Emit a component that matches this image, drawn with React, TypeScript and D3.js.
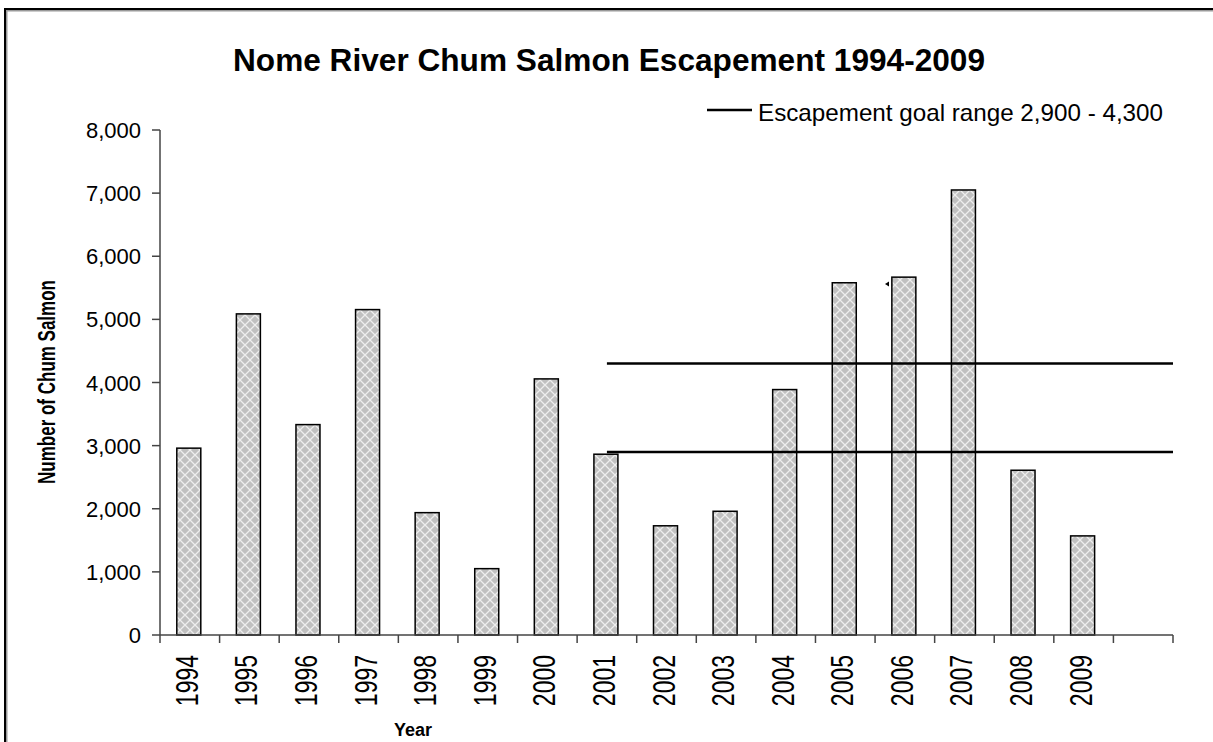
import React from "react";
import * as d3 from "d3";

const years = ["1994", "1995", "1996", "1997", "1998", "1999", "2000", "2001", "2002", "2003", "2004", "2005", "2006", "2007", "2008", "2009"];
const escapement = [2960, 5087, 3333, 5155, 1938, 1051, 4057, 2864, 1730, 1960, 3888, 5580, 5669, 7050, 2610, 1570];
const goalRange = [2900, 4300];
const goalStartYear = "2001";
const yTicks = [0, 1000, 2000, 3000, 4000, 5000, 6000, 7000, 8000];

const W = 1213;
const H = 742;
const FONT = "'Liberation Sans', Arial, sans-serif";

const App: React.FC = () => {
  const left = 160;
  const top = 130;
  const plotRight = 1173;
  const plotBottom = 635;

  // one blank slot after the last year, as in the original sheet
  const cats = [...years, ""];
  const band = d3.scaleBand<string>().domain(cats).range([left, plotRight]);
  const y = d3.scaleLinear().domain([0, 8000]).range([plotBottom, top]);
  const fmt = d3.format(",");

  const barW = 24;
  const lineX1 = (band(goalStartYear) ?? 0) + band.bandwidth() / 2;
  const axis = "#444";

  return (
    <svg width={W} height={H} style={{ position: "absolute", left: 0, top: 0, background: "#fff" }} fontFamily={FONT}>
      <defs>
        <pattern id="hatch" width="10" height="10" patternUnits="userSpaceOnUse">
          <rect width="10" height="10" fill="#c0c0c0" />
          <path d="M0,0 L10,10 M10,0 L0,10" stroke="#eeeeee" strokeWidth="1.3" />
        </pattern>
      </defs>

      {/* chart frame */}
      <rect x={6.5} y={10.5} width={W + 10} height={H + 10} fill="none" stroke="#999" strokeWidth={2} />
      <rect x={5} y={9} width={W + 10} height={H + 10} fill="none" stroke="#000" strokeWidth={2} />

      <text x={609} y={71} textAnchor="middle" fontSize={31} fontWeight="bold" fill="#000" textLength={752} lengthAdjust="spacingAndGlyphs">
        Nome River Chum Salmon Escapement 1994-2009
      </text>

      {/* legend */}
      <line x1={707} x2={752} y1={110} y2={110} stroke="#000" strokeWidth={2.5} />
      <text x={758} y={121} fontSize={24} fill="#000" textLength={405} lengthAdjust="spacingAndGlyphs">
        Escapement goal range 2,900 - 4,300
      </text>

      {/* y axis */}
      <line x1={left} x2={left} y1={top} y2={plotBottom} stroke={axis} strokeWidth={1.5} />
      {yTicks.map((t) => (
        <g key={t}>
          <line x1={left - 8} x2={left} y1={y(t)} y2={y(t)} stroke={axis} strokeWidth={1.5} />
          <text x={141} y={y(t) + 8} textAnchor="end" fontSize={22} fill="#000">{fmt(t)}</text>
        </g>
      ))}
      <text transform="translate(55,382) scale(1.4,1) rotate(-90)" textAnchor="middle" fontSize={17} fontWeight="bold" fill="#000">
        Number of Chum Salmon
      </text>

      {/* bars */}
      {years.map((yr, i) => {
        const cx = (band(yr) ?? 0) + band.bandwidth() / 2 - 1;
        return (
          <rect key={yr} x={cx - barW / 2} y={y(escapement[i])} width={barW} height={y(0) - y(escapement[i])}
            fill="url(#hatch)" stroke="#000" strokeWidth={1.5} />
        );
      })}

      {/* goal range lines */}
      {goalRange.map((g) => (
        <line key={g} x1={lineX1} x2={plotRight} y1={y(g)} y2={y(g)} stroke="#000" strokeWidth={2.5} />
      ))}

      <path d="M885,284 L889,281.5 L889,286.5 Z" fill="#000" />

      {/* x axis */}
      <line x1={left} x2={plotRight} y1={plotBottom} y2={plotBottom} stroke={axis} strokeWidth={1.5} />
      {cats.map((c) => (
        <line key={"t" + c} x1={band(c)} x2={band(c)} y1={plotBottom} y2={plotBottom + 8} stroke={axis} strokeWidth={1.5} />
      ))}
      <line x1={plotRight} x2={plotRight} y1={plotBottom} y2={plotBottom + 8} stroke={axis} strokeWidth={1.5} />
      {years.map((yr) => {
        const cx = (band(yr) ?? 0) + band.bandwidth() / 2;
        return (
          <text key={"l" + yr} transform={`translate(${cx + 8},655) scale(1.4,1) rotate(-90)`} textAnchor="end" fontSize={23} fill="#000">
            {yr}
          </text>
        );
      })}
      <text x={413} y={736} textAnchor="middle" fontSize={18} fontWeight="bold" fill="#000">Year</text>
    </svg>
  );
};

export default App;
